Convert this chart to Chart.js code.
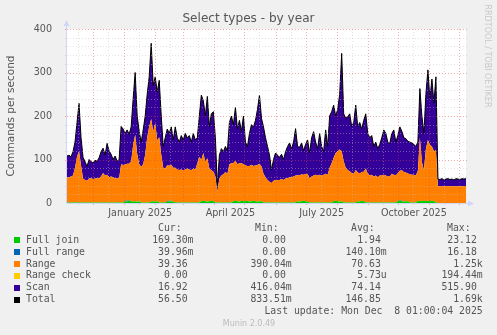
<!DOCTYPE html>
<html>
<head>
<meta charset="utf-8">
<script src="https://cdn.jsdelivr.net/npm/chart.js@4.4.1/dist/chart.umd.min.js"></script>
<style>
  html, body { margin: 0; padding: 0; background: #F0F0F0; }
  canvas { display: block; }
</style>
</head>
<body>
<canvas id="chart" width="497" height="335"></canvas>
<script>
// Daily samples, one every STEP_DAYS days, starting at FIRST_DAY.
const FIRST_DAY = [2024, 10, 5];   // 5 Nov 2024
const STEP_DAYS = 2;

const totalValues = [
  108,110,106,118,140,185,229,150,105,95,
  84,100,95,92,98,96,104,118,126,110,
  137,120,112,100,108,96,100,176,170,160,
  168,158,175,240,300,200,165,140,168,200,
  250,290,367,270,290,255,282,200,130,150,
  170,160,175,145,175,150,140,155,145,160,
  150,155,140,160,145,150,200,248,235,200,
  245,176,205,210,150,40,110,125,118,130,
  120,185,200,180,220,170,190,165,200,140,
  130,160,180,175,190,215,248,195,175,150,
  130,110,76,100,115,110,105,112,100,118,
  130,138,125,140,171,130,128,138,120,135,
  145,115,150,164,140,125,160,130,118,168,
  130,200,210,225,200,215,250,344,205,195,
  198,205,176,185,225,175,185,170,190,205,
  160,150,155,130,140,125,135,150,168,160,
  140,137,160,168,140,155,175,165,150,148,
  142,140,138,135,130,140,263,200,160,250,
  306,240,285,230,290,55,54,56,53,55,
  56,54,55,53,56,55,54,56,55,56
];

const rangeValues = [
  58,58,60,62,80,105,118,85,55,52,
  50,55,56,54,55,56,56,60,68,62,
  64,58,60,58,56,55,56,88,86,84,
  85,84,92,130,153,110,85,82,88,110,
  150,175,190,160,180,140,150,110,80,78,
  82,80,84,78,80,76,75,76,74,76,
  78,76,74,78,76,90,105,95,110,90,
  100,75,70,68,60,25,55,62,65,70,
  66,88,90,88,92,85,88,86,85,82,
  80,82,84,80,82,84,86,80,66,58,
  52,48,45,50,52,52,52,54,52,55,
  56,58,58,60,62,60,60,62,60,62,
  64,55,60,62,64,62,64,62,64,66,
  64,80,90,100,110,115,120,115,95,80,
  75,72,68,66,75,66,65,66,68,78,
  66,62,64,60,62,58,62,62,64,62,
  60,60,66,64,62,65,68,70,68,66,
  64,65,64,64,62,70,145,90,70,120,
  140,130,125,115,120,38,38,39,38,39,
  38,39,38,39,38,38,39,38,39,39
];

const fullJoinValues = [
  1,1,1,1,1,1,1,1,1,1,
  1,1,1,1,1,1,1,1,1,1,
  1,1,1,1,1,1,1,1,1,3,
  4,5,4,3,4,3,4,1,1,1,
  1,1,3,4,3,4,1,1,1,1,
  3,4,4,3,1,1,1,1,1,1,
  1,1,1,1,1,1,1,4,5,4,
  3,4,5,4,1,1,1,1,1,1,
  1,1,1,4,5,4,3,5,4,4,
  5,3,4,5,4,3,4,4,1,1,
  1,1,1,1,1,1,1,1,1,1,
  1,1,1,1,1,4,3,4,5,4,
  3,1,1,1,1,1,1,1,1,1,
  1,1,1,4,5,4,3,4,1,1,
  1,1,1,1,1,4,3,5,4,1,
  1,1,1,1,1,1,1,1,1,1,
  1,1,1,1,1,4,5,4,3,4,
  4,1,1,1,1,4,5,4,5,4,
  5,4,5,4,1,0.2,0.2,0.2,0.2,0.2,
  0.2,0.2,0.2,0.2,0.2,0.2,0.2,0.2,0.2,0.2
];

const fullRangeValues = [
  0.1,0.1,0.1,0.1,0.1,0.1,0.1,0.1,0.1,0.1,
  0.1,0.1,0.1,0.1,0.1,0.1,0.1,0.1,0.1,0.1,
  0.1,0.1,0.1,0.1,0.1,0.1,0.1,0.1,0.1,1.5,
  1.5,1,0.1,0.1,0.1,0.1,0.1,0.1,0.1,0.1,
  0.1,0.1,0.1,0.1,0.1,0.1,0.1,0.1,0.1,0.1,
  1.5,1.5,0.1,0.1,0.1,0.1,0.1,0.1,0.1,0.1,
  0.1,0.1,0.1,0.1,0.1,0.1,0.1,0.1,0.1,0.1,
  0.1,0.1,0.1,0.1,0.1,0.1,0.1,0.1,0.1,0.1,
  0.1,0.1,0.1,0.1,0.1,0.1,0.1,0.1,0.1,0.1,
  0.1,0.1,0.1,0.1,0.1,0.1,0.1,0.1,0.1,0.1,
  0.1,0.1,0.1,0.1,0.1,0.1,0.1,0.1,0.1,0.1,
  0.1,0.1,0.1,0.1,0.1,0.1,0.1,0.1,0.1,0.1,
  0.1,0.1,0.1,0.1,0.1,0.1,0.1,0.1,0.1,0.1,
  0.1,0.1,0.1,0.1,0.1,0.1,0.1,0.1,0.1,0.1,
  0.1,0.1,0.1,0.1,0.1,0.1,0.1,0.1,0.1,0.1,
  0.1,0.1,0.1,0.1,0.1,0.1,0.1,0.1,0.1,0.1,
  0.1,0.1,0.1,0.1,0.1,0.1,1.2,1.2,0.1,0.1,
  0.1,0.1,0.1,0.1,0.1,0.1,0.1,0.1,0.1,0.1,
  0.1,0.1,0.1,0.1,0.1,0.04,0.04,0.04,0.04,0.04,
  0.04,0.04,0.04,0.04,0.04,0.04,0.04,0.04,0.04,0.04
];

const rangeCheckValues = [
  0,0,0,0,0,0,0,0,0,0, 0,0,0,0,0,0,0,0,0,0,
  0,0,0,0,0,0,0,0,0,0, 0,0,0,0,0,0,0,0,0,0,
  0,0,0,0,0,0,0,0,0,0, 0,0,0,0,0,0,0,0,0,0,
  0,0,0,0,0,0,0,0,0,0, 0,0,0,0,0,0,0,0,0,0,
  0,0,0,0,0,0,0,0,0,0, 0,0,0,0,0,0,0,0,0,0,
  0,0,0,0,0,0,0,0,0,0, 0,0,0,0,0,0,0,0,0,0,
  0,0,0,0,0,0,0,0,0,0, 0,0,0,0,0,0,0,0,0,0,
  0,0,0,0,0,0,0,0,0,0, 0,0,0,0,0,0,0,0,0,0,
  0,0,0,0,0,0,0,0,0,0, 0,0,0,0,0,0,0,0,0,0,
  0,0,0,0,0,0,0,0,0,0, 0,0,0,0,0,0,0,0,0,0
];

// Scan is whatever the total leaves over the other stacked series.
const scanValues = totalValues.map((t, i) =>
  Math.max(0, t - rangeValues[i] - fullJoinValues[i] - fullRangeValues[i] - rangeCheckValues[i]));

const seriesNames  = ['Full join', 'Full range', 'Range', 'Range check', 'Scan', 'Total'];
const seriesColors = ['#00CC00', '#0066B3', '#FF8000', '#FFCC00', '#330099', '#000000'];
const legendCur = ['169.30m', '39.96m', '39.36 ', '0.00 ', '16.92 ', '56.50 '];
const legendMin = ['0.00 ', '0.00 ', '390.04m', '0.00 ', '416.04m', '833.51m'];
const legendAvg = ['1.94 ', '140.10m', '70.63 ', '5.73u', '74.14 ', '146.85 '];
const legendMax = ['23.12 ', '16.18 ', '1.25k', '194.44m', '515.90 ', '1.69k'];

const xTickLabels = ['January 2025', 'April 2025', 'July 2025', 'October 2025'];
const xTickDates  = [[2025, 0, 17], [2025, 3, 17], [2025, 6, 17], [2025, 9, 17]];
const yTickValues = [0, 100, 200, 300, 400];

const TITLE = 'Select types - by year';
const Y_TITLE = 'Commands per second';
const LAST_UPDATE = 'Last update: Mon Dec  8 01:00:04 2025';
const VERSION = 'Munin 2.0.49';
const SIDE_MARK = 'RRDTOOL / TOBI OETIKER';

// ---- helpers -------------------------------------------------------------
const START_MS = Date.UTC(FIRST_DAY[0], FIRST_DAY[1], FIRST_DAY[2]);
const dayOf = (y, m, d) => Math.round((Date.UTC(y, m, d) - START_MS) / 86400000);
const days = totalValues.map((_, i) => i * STEP_DAYS);
const X_MAX = days[days.length - 1];

const monthStarts = [], monthMids = [];
for (let k = 0; k < 15; k++) {
  const y = FIRST_DAY[0] + Math.floor((FIRST_DAY[1] + k) / 12);
  const m = (FIRST_DAY[1] + k) % 12;
  const a = dayOf(y, m, 1), b = dayOf(y, m, 16);
  if (a > 0 && a <= X_MAX) monthStarts.push(a);
  if (b > 0 && b <= X_MAX) monthMids.push(b);
}
const xTickDays = xTickDates.map(d => dayOf(d[0], d[1], d[2]));

const AXIS_COLOR = '#CFD6F8';
const MINOR_GRID = 'rgba(190,190,190,0.45)';
const MAJOR_GRID = 'rgba(228,70,70,0.45)';
const TEXT_COLOR = '#555555';

// White canvas behind the plot, dotted grid drawn over the areas, axes with arrows.
const rrdFrame = {
  id: 'rrdFrame',
  beforeDatasetsDraw(chart) {
    const { ctx, chartArea: a } = chart;
    ctx.save();
    ctx.fillStyle = '#FFFFFF';
    ctx.fillRect(a.left, a.top, a.right - a.left, a.bottom - a.top);
    ctx.restore();
  },
  afterDatasetsDraw(chart) {
    const { ctx, chartArea: a, scales } = chart;
    const xs = scales.x, ys = scales.y;
    ctx.save();
    ctx.lineWidth = 1;
    // horizontal grid
    for (let v = 20; v <= 400; v += 20) {
      const y = Math.round(ys.getPixelForValue(v)) + 0.5;
      const major = v % 100 === 0;
      ctx.setLineDash([1, 2]);
      ctx.strokeStyle = major ? MAJOR_GRID : MINOR_GRID;
      ctx.beginPath(); ctx.moveTo(a.left, y); ctx.lineTo(a.right + 2, y); ctx.stroke();
      ctx.setLineDash([]);
      ctx.beginPath(); ctx.moveTo(a.left - 2, y); ctx.lineTo(a.left, y); ctx.stroke();
    }
    // vertical grid
    const vline = (d, col) => {
      const x = Math.round(xs.getPixelForValue(d)) + 0.5;
      ctx.strokeStyle = col;
      ctx.setLineDash([1, 2]);
      ctx.beginPath(); ctx.moveTo(x, a.top); ctx.lineTo(x, a.bottom); ctx.stroke();
      ctx.setLineDash([]);
      ctx.beginPath(); ctx.moveTo(x, a.bottom); ctx.lineTo(x, a.bottom + 2); ctx.stroke();
    };
    monthMids.forEach(d => vline(d, MINOR_GRID));
    monthStarts.forEach(d => vline(d, MAJOR_GRID));
    ctx.restore();
  },
  afterDraw(chart) {
    const { ctx, chartArea: a } = chart;
    ctx.save();
    // axes
    ctx.strokeStyle = AXIS_COLOR; ctx.fillStyle = AXIS_COLOR; ctx.lineWidth = 1;
    const ax = a.left - 0.5, ay = a.bottom + 0.5;
    ctx.beginPath(); ctx.moveTo(ax, ay); ctx.lineTo(ax, a.top - 5); ctx.stroke();
    ctx.beginPath(); ctx.moveTo(ax - 3, a.top - 3); ctx.lineTo(ax + 3, a.top - 3); ctx.lineTo(ax, a.top - 9); ctx.closePath(); ctx.fill();
    ctx.beginPath(); ctx.moveTo(ax, ay); ctx.lineTo(a.right + 4, ay); ctx.stroke();
    ctx.beginPath(); ctx.moveTo(a.right + 2, ay - 3); ctx.lineTo(a.right + 2, ay + 3); ctx.lineTo(a.right + 8, ay); ctx.closePath(); ctx.fill();

    // title
    ctx.fillStyle = TEXT_COLOR;
    ctx.textAlign = 'center'; ctx.textBaseline = 'middle';
    ctx.font = '12.1px "DejaVu Sans"';
    ctx.fillText(TITLE, 248.5, 19);

    // vertical axis title
    ctx.save();
    ctx.translate(11, 116);
    ctx.rotate(-Math.PI / 2);
    ctx.font = '10.5px "DejaVu Sans"';
    ctx.fillText(Y_TITLE, 0, 0);
    ctx.restore();

    // side mark
    ctx.save();
    ctx.translate(487, 56);
    ctx.rotate(Math.PI / 2);
    ctx.fillStyle = '#C8C8C8';
    ctx.font = '8px "DejaVu Sans"';
    ctx.fillText(SIDE_MARK, 0, 0);
    ctx.restore();

    // legend table
    ctx.font = '9.8px "DejaVu Sans Mono"';
    ctx.fillStyle = TEXT_COLOR;
    const cw = ctx.measureText('0').width;
    const right = (s, edge, y) => {
      ctx.textAlign = 'right';
      const t = s.replace(/ +$/, '');
      ctx.fillText(t, edge - (s.length - t.length) * cw, y);
    };
    const rowY = k => 228.3 + k * 11.9;
    ctx.textAlign = 'left';
    ctx.fillText('Cur:', 158, rowY(0));
    ctx.fillText('Min:', 255, rowY(0));
    ctx.fillText('Avg:', 351, rowY(0));
    ctx.fillText('Max:', 447, rowY(0));
    seriesNames.forEach((name, k) => {
      const y = rowY(k + 1);
      ctx.fillStyle = seriesColors[k];
      ctx.fillRect(14, Math.round(y) - 3, 6, 6);
      ctx.fillStyle = TEXT_COLOR;
      ctx.textAlign = 'left';
      ctx.fillText(name, 26, y);
      right(legendCur[k], 193.5, y);
      right(legendMin[k], 291.7, y);
      right(legendAvg[k], 386.7, y);
      right(legendMax[k], 482.7, y);
    });
    right(LAST_UPDATE, 482.7, rowY(7));

    ctx.textAlign = 'center';
    ctx.fillStyle = '#BBBBBB';
    ctx.font = '8px "DejaVu Sans"';
    ctx.fillText(VERSION, 249, 324);
    ctx.restore();
  }
};

const areaSeries = [fullJoinValues, fullRangeValues, rangeValues, rangeCheckValues, scanValues];
const datasets = areaSeries.map((vals, k) => ({
  label: seriesNames[k],
  data: vals,
  backgroundColor: seriesColors[k],
  borderColor: seriesColors[k],
  borderWidth: 0,
  fill: k === 0 ? 'origin' : '-1',
  pointRadius: 0,
  tension: 0,
  stack: 'areas'
}));
datasets.push({
  label: seriesNames[5],
  data: totalValues,
  borderColor: seriesColors[5],
  borderWidth: 1,
  fill: false,
  pointRadius: 0,
  tension: 0,
  stack: 'total',
  order: -1
});

new Chart(document.getElementById('chart'), {
  type: 'line',
  data: { labels: days, datasets },
  options: {
    responsive: false,
    animation: false,
    devicePixelRatio: 1,
    layout: { padding: { top: 29, right: 31, left: 0, bottom: 0 } },
    plugins: { legend: { display: false }, tooltip: { enabled: false }, title: { display: false } },
    scales: {
      x: {
        type: 'linear', min: 0, max: X_MAX,
        grid: { display: false }, border: { display: false },
        afterBuildTicks(s) { s.ticks = xTickDays.map(v => ({ value: v })); },
        afterFit(s) { s.height = 132; },
        ticks: {
          autoSkip: false, maxRotation: 0, minRotation: 0, padding: -3,
          color: TEXT_COLOR, font: { family: 'DejaVu Sans', size: 9.6 },
          callback: (v, i) => xTickLabels[i]
        }
      },
      y: {
        stacked: true, min: 0, max: 400,
        grid: { display: false }, border: { display: false },
        afterBuildTicks(s) { s.ticks = yTickValues.map(v => ({ value: v })); },
        afterFit(s) { s.width = 67; },
        ticks: { padding: 7, color: TEXT_COLOR, font: { family: 'DejaVu Sans', size: 9.6 } }
      }
    }
  },
  plugins: [rrdFrame]
});
</script>
</body>
</html>
